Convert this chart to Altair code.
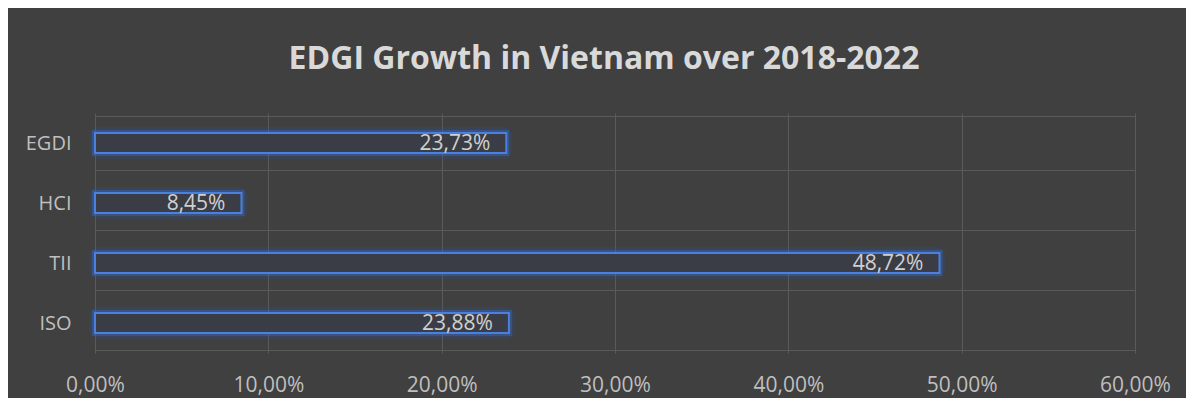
import altair as alt
import pandas as pd

categories = ["EGDI", "HCI", "TII", "ISO"]
values = [0.2373, 0.0845, 0.4872, 0.2388]
x_ticks = [0, 0.1, 0.2, 0.3, 0.4, 0.5, 0.6]

df = pd.DataFrame({"cat": categories, "val": values})

FONT = "Open Sans"
BG = "#404040"

x_enc = alt.X("val:Q",
              scale=alt.Scale(domain=[0, 0.6], nice=False, zero=True),
              axis=alt.Axis(values=x_ticks, title=None, domain=False, ticks=False,
                            grid=True, gridColor="#5a5a5a", gridWidth=1,
                            labelFlush=False, labelOverlap=False,
                            labelExpr="replace(format(datum.value, '.2%'), '.', ',')",
                            labelColor="#bfbfbf", labelFont=FONT, labelFontSize=21,
                            labelPadding=21))
y_enc = alt.Y("cat:N", sort=categories,
              axis=alt.Axis(title=None, domain=False, ticks=False, grid=True,
                            tickBand="extent", gridColor="#5a5a5a", gridWidth=1,
                            labelColor="#bfbfbf", labelFont=FONT, labelFontSize=20,
                            labelPadding=24))

base = alt.Chart(df).encode(x=x_enc, y=y_enc)

glow1 = base.mark_bar(size=20, fill=None, stroke="#2a55a8", strokeWidth=12,
                      strokeOpacity=0.2, cornerRadius=3)
glow2 = base.mark_bar(size=20, fill=None, stroke="#3a6fd0", strokeWidth=6,
                      strokeOpacity=0.35)
bars = base.mark_bar(size=20, fill="#3a3d45", stroke="#4a80e0", strokeWidth=2)

labels = base.transform_calculate(
    lbl="replace(format(datum.val, '.2%'), '.', ',')"
).mark_text(align="right", baseline="middle", dx=-16, dy=1, font=FONT, fontSize=21,
            color="#d0d0d0").encode(text="lbl:N")

chart = alt.layer(glow1, glow2, bars, labels).properties(
    width=1040, height=240,
    padding={"left": 87, "top": 105, "right": 51, "bottom": 45},
    autosize=alt.AutoSizeParams(type="none"),
    background=BG,
    title=alt.TitleParams("EDGI Growth in Vietnam over 2018-2022", font=FONT,
                          fontSize=32, fontWeight="bold", color="#d9d9d9",
                          anchor="middle", offset=27, dx=-11),
).configure_view(stroke=None)

chart.save("out.html", embed_options={"renderer": "svg", "actions": False})
